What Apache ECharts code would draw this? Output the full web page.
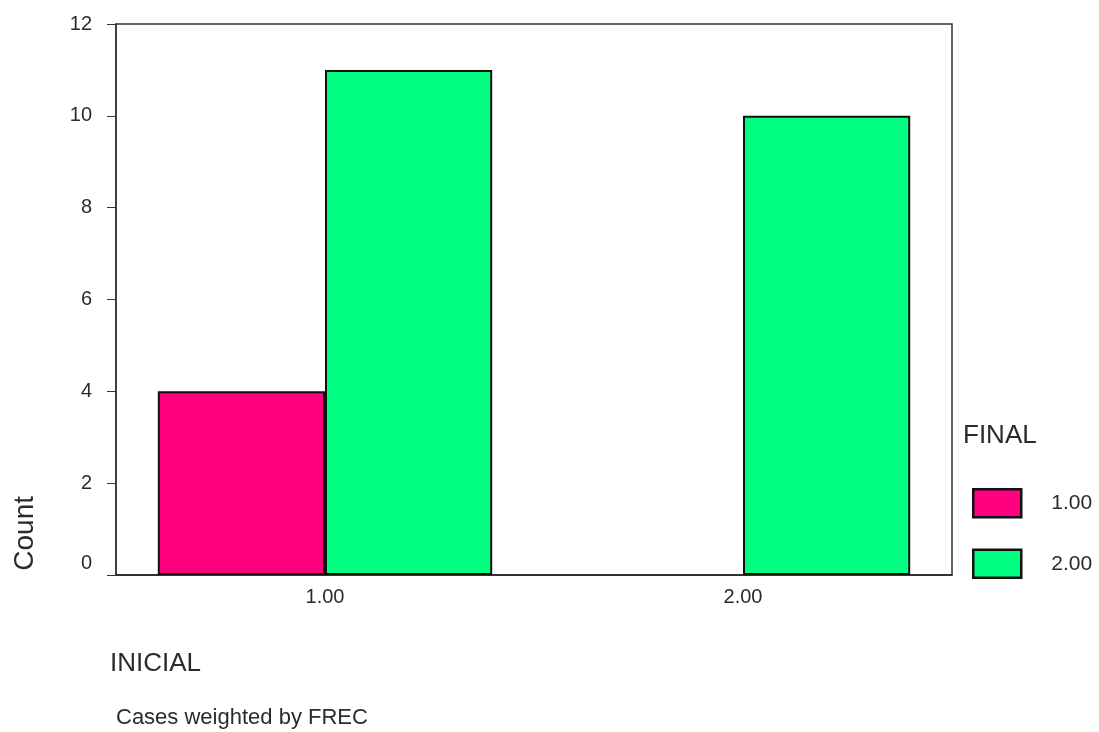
<!DOCTYPE html>
<html>
<head>
<meta charset="utf-8">
<script src="https://cdn.jsdelivr.net/npm/echarts@6/dist/echarts.min.js"></script>
<style>
  html, body { margin: 0; padding: 0; background: #fff; }
  #chart { width: 1099px; height: 732px; }
</style>
</head>
<body>
<div id="chart"></div>
<script>
  // INICIAL categories and FINAL groups
  var categories = ['1.00', '2.00'];
  var groupNames = ['1.00', '2.00'];
  var countFinal1 = [4, null];
  var countFinal2 = [11, 10];
  var yMin = 0, yMax = 12, yStep = 2;

  var txt = '#2b2b2b';
  var font = 'Liberation Sans, Arial, sans-serif';

  var myChart = echarts.init(document.getElementById('chart'));
  var option = {
    backgroundColor: '#fff',
    animation: false,
    textStyle: { fontFamily: font, color: txt },
    grid: {
      left: 116, right: 147, top: 24, bottom: 157,
      show: true, borderColor: '#333', borderWidth: 1.5,
      backgroundColor: '#fff'
    },
    legend: {
      orient: 'vertical',
      left: 967, top: 483,
      itemWidth: 48, itemHeight: 28, itemGap: 30,
      icon: 'rect',
      data: groupNames,
      itemStyle: { borderColor: '#111', borderWidth: 2.5 },
      textStyle: { fontFamily: font, fontSize: 21, color: txt, padding: [0, 0, 0, 25] }
    },
    xAxis: {
      type: 'category',
      data: categories,
      axisLine: { lineStyle: { color: '#222', width: 1.5 } },
      axisTick: { alignWithLabel: true, length: 6, lineStyle: { color: '#222' } },
      axisLabel: { fontSize: 20, color: txt, margin: 12, fontFamily: font },
      splitLine: { show: false }
    },
    yAxis: {
      type: 'value',
      min: yMin, max: yMax, interval: yStep,
      axisLine: { show: true, lineStyle: { color: '#333', width: 1.5 } },
      axisTick: { show: true, length: 9, lineStyle: { color: '#333' } },
      axisLabel: {
        fontSize: 20, color: txt, margin: 24, fontFamily: font,
        formatter: function (v) { return v === 0 ? '{z|0}' : String(v); },
        rich: { z: { fontSize: 20, color: txt, fontFamily: font, padding: [0, 0, 24, 0] } }
      },
      splitLine: { show: false }
    },
    series: [
      {
        name: groupNames[0], type: 'bar', data: countFinal1,
        barGap: '0%', barCategoryGap: '20%',
        itemStyle: { color: '#ff0080', borderColor: '#111', borderWidth: 2 }
      },
      {
        name: groupNames[1], type: 'bar', data: countFinal2,
        barGap: '0%', barCategoryGap: '20%',
        itemStyle: { color: '#00ff80', borderColor: '#111', borderWidth: 2 }
      }
    ],
    graphic: [
      {
        type: 'text', left: 11, top: 496, rotation: Math.PI / 2,
        style: { text: 'Count', fontSize: 28, fill: txt, fontFamily: font }
      },
      {
        type: 'text', left: 110, top: 651,
        style: { text: 'INICIAL', fontSize: 26, fill: txt, fontFamily: font }
      },
      {
        type: 'text', left: 116, top: 707,
        style: { text: 'Cases weighted by FREC', fontSize: 22, fill: txt, fontFamily: font }
      },
      {
        type: 'text', left: 963, top: 423,
        style: { text: 'FINAL', fontSize: 26, fill: txt, fontFamily: font }
      }
    ]
  };
  myChart.setOption(option);
</script>
</body>
</html>
